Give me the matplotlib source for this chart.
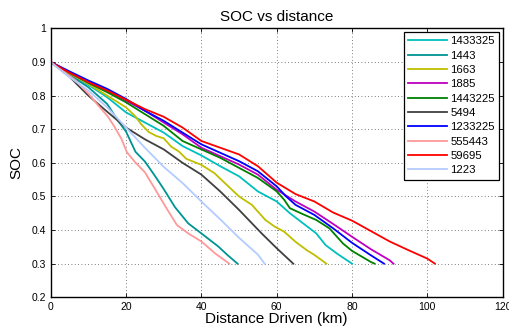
import matplotlib
matplotlib.use('Agg')
import matplotlib.pyplot as plt
from matplotlib.ticker import FormatStrFormatter, MultipleLocator

plt.rcParams['font.family'] = ['Liberation Sans', 'DejaVu Sans']

# distance (km) / SOC, one pair of lists per drive
d_1433325 = [0, 5, 10, 15, 20, 25, 30, 35, 40, 45, 50, 55, 60, 63.5, 67, 70.5, 73, 76, 80]
s_1433325 = [.9, .865, .832, .795, .75, .72, .69, .65, .622, .59, .56, .515, .485, .45, .42, .39, .355, .33, .30]

d_1443 = [0, 5, 10, 15, 18, 20, 22.5, 25, 27.5, 30, 33, 36.5, 40, 44.5, 47, 49.6]
s_1443 = [.9, .862, .825, .775, .723, .693, .633, .604, .564, .522, .468, .42, .39, .351, .325, .30]

d_1663 = [0, 5, 10, 15, 20, 22.5, 24, 26, 28, 30, 32, 34, 36, 40, 43.5, 46.3, 50, 53.4, 57, 59.5, 62, 65, 68, 70, 73.2]
s_1663 = [.9, .866, .835, .80, .765, .738, .715, .692, .68, .673, .648, .634, .612, .594, .569, .539, .50, .475, .43, .41, .395, .365, .34, .326, .30]

d_1885 = [0, 5, 10, 15, 20, 25, 30, 35, 40, 45, 50, 55, 60, 65, 70, 75, 80, 85, 90, 91]
s_1885 = [.9, .87, .842, .815, .785, .755, .72, .685, .645, .62, .595, .565, .52, .485, .455, .418, .38, .343, .31, .30]

d_1443225 = [0, 5, 10, 15, 20, 25, 30, 35, 40, 45, 50, 55, 60, 62, 63.5, 67, 70.5, 74, 77.6, 80, 85, 86]
s_1443225 = [.9, .868, .838, .81, .78, .745, .71, .665, .64, .615, .585, .555, .515, .49, .465, .447, .43, .405, .36, .338, .305, .30]

d_5494 = [0, 5, 10, 15, 20, 25, 30, 35, 40, 45, 50, 53, 56, 60, 62, 64.4]
s_5494 = [.9, .856, .80, .752, .705, .67, .64, .60, .565, .515, .46, .425, .39, .346, .325, .30]

d_1233225 = [0, 5, 10, 15, 20, 25, 30, 35, 40, 45, 50, 55, 60, 62.5, 65, 70, 75, 80, 85, 88.5]
s_1233225 = [.9, .872, .845, .82, .79, .755, .725, .69, .655, .63, .605, .575, .53, .50, .475, .445, .405, .362, .325, .30]

d_555443 = [0, 3, 6.4, 10, 12.6, 15.3, 17, 18.8, 20.2, 22.4, 25, 27.7, 30.3, 33.5, 36.5, 40, 43.6, 47.4]
s_555443 = [.9, .875, .847, .806, .771, .736, .706, .671, .632, .602, .572, .522, .473, .415, .39, .366, .331, .30]

d_59695 = [0, 5, 10, 15, 20, 25, 30, 35, 40, 45, 50, 55, 60, 65, 70, 75, 80, 85, 90, 95, 100, 102]
s_59695 = [.9, .868, .840, .815, .788, .76, .737, .705, .665, .645, .625, .59, .541, .507, .485, .452, .428, .397, .366, .34, .315, .30]

d_1223 = [0, 5, 10, 15, 20, 25, 30, 35, 40, 45, 50, 55, 56.8]
s_1223 = [.9, .855, .815, .765, .705, .645, .588, .54, .485, .432, .377, .327, .30]

labels = ['1433325', '1443', '1663', '1885', '1443225', '5494',
          '1233225', '555443', '59695', '1223']
colors = ['#00bfbf', '#009393', '#bfbf00', '#bf00bf', '#008000', '#404040',
          '#0000ff', '#ff9999', '#ff0000', '#b3ccff']
dists = [d_1433325, d_1443, d_1663, d_1885, d_1443225, d_5494,
         d_1233225, d_555443, d_59695, d_1223]
socs = [s_1433325, s_1443, s_1663, s_1885, s_1443225, s_5494,
        s_1233225, s_555443, s_59695, s_1223]

fig = plt.figure(figsize=(5.09, 3.34), dpi=100)
ax = fig.add_axes([0.0996, 0.11, 0.888, 0.805])

for d, s, c, lab in zip(dists, socs, colors, labels):
    ax.plot(d, s, color=c, lw=1.3, label=lab)

ax.set_xlim(0, 120)
ax.set_ylim(0.2, 1)
ax.xaxis.set_major_locator(MultipleLocator(20))
ax.yaxis.set_major_locator(MultipleLocator(0.1))
ax.yaxis.set_major_formatter(FormatStrFormatter('%g'))
ax.tick_params(direction='in', top=True, right=True, labelsize=7.5, length=3, width=0.6)
ax.grid(True, linestyle=(0, (1, 3)), color='#555555', lw=0.6)
for sp in ax.spines.values():
    sp.set_linewidth(1.0)

ax.set_title('SOC vs distance', fontsize=11, pad=5)
ax.set_xlabel('Distance Driven (km)', fontsize=11, labelpad=0)
ax.set_ylabel('SOC', fontsize=11, labelpad=6)

leg = ax.legend(loc='upper right', fontsize=8.2, handlelength=3.4, labelspacing=0.38,
                borderaxespad=0.3, fancybox=False, handletextpad=0.3, borderpad=0.4)
leg.get_frame().set_edgecolor('black')
leg.get_frame().set_linewidth(0.9)
leg.get_frame().set_alpha(1)

fig.savefig('out.png', dpi=100)
